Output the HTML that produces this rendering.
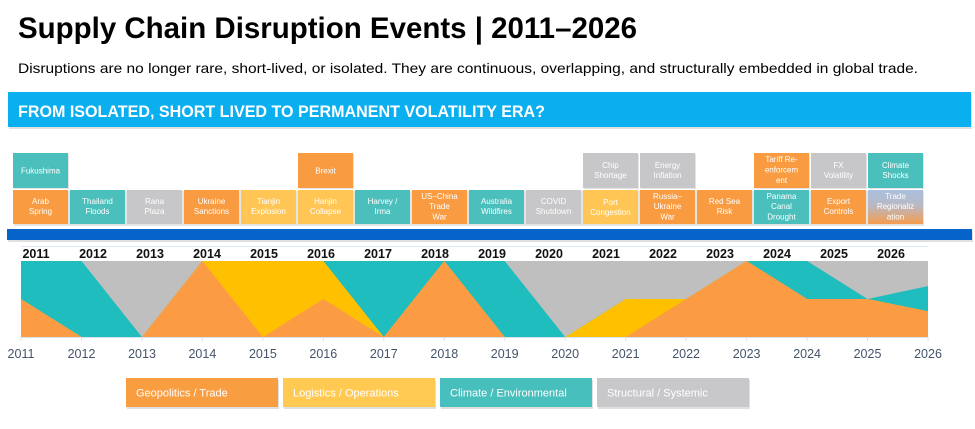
<!DOCTYPE html>
<html>
<head>
<meta charset="utf-8">
<style>
  html,body{margin:0;padding:0;background:#fff;}
  body{width:975px;height:429px;overflow:hidden;}
  svg{display:block;}
  .bx{font-family:"Liberation Sans",sans-serif;font-size:8px;fill:#fff;text-anchor:middle;}
  .yr{font-family:"Liberation Sans",sans-serif;font-size:12.5px;font-weight:bold;fill:#111;text-anchor:middle;}
  .ax{font-family:"Liberation Sans",sans-serif;font-size:12.5px;fill:#44546A;text-anchor:middle;}
  .lg{font-family:"Liberation Sans",sans-serif;font-size:11px;fill:#fff;}
</style>
</head>
<body>
<svg width="975" height="429" viewBox="0 0 975 429" xmlns="http://www.w3.org/2000/svg">
  <defs>
    <linearGradient id="tr" x1="0" y1="0" x2="0" y2="1">
      <stop offset="0" stop-color="#A9BFDF"/>
      <stop offset="0.45" stop-color="#B9B9C4"/>
      <stop offset="1" stop-color="#F59C4E"/>
    </linearGradient>
  </defs>

  <!-- Title -->
  <text x="18" y="38" font-family="Liberation Sans, sans-serif" font-weight="bold" font-size="30" fill="#000" textLength="619" lengthAdjust="spacingAndGlyphs">Supply Chain Disruption Events | 2011–2026</text>
  <text x="18" y="73" font-family="Liberation Sans, sans-serif" font-size="14" fill="#000" textLength="900" lengthAdjust="spacingAndGlyphs">Disruptions are no longer rare, short-lived, or isolated. They are continuous, overlapping, and structurally embedded in global trade.</text>

  <!-- Banner -->
  <rect x="9" y="94" width="963" height="35" fill="#000" opacity="0.12"/>
  <rect x="8" y="92" width="963" height="35" fill="#0AAFEF"/>
  <text x="18" y="117" font-family="Liberation Sans, sans-serif" font-weight="bold" font-size="17" fill="#fff" textLength="527" lengthAdjust="spacingAndGlyphs">FROM ISOLATED, SHORT LIVED TO PERMANENT VOLATILITY ERA?</text>

  <!-- Event boxes: shadows -->
  <g fill="#000" opacity="0.10">
    <rect x="14" y="154" width="55" height="35"/>
    <rect x="299" y="154" width="55" height="35"/>
    <rect x="584" y="154" width="55" height="35"/>
    <rect x="641" y="154" width="55" height="35"/>
    <rect x="755" y="154" width="55" height="35"/>
    <rect x="812" y="154" width="55" height="35"/>
    <rect x="869" y="154" width="55" height="35"/>
    <rect x="14" y="191" width="910" height="35"/>
  </g>

  <!-- Top row -->
  <rect x="13" y="153" width="55" height="35" fill="#4BBFBB"/>
  <text class="bx" x="40.5" y="173.5">Fukushima</text>

  <rect x="298" y="153" width="55" height="35" fill="#F99B41"/>
  <text class="bx" x="325.5" y="173.5">Brexit</text>

  <rect x="583" y="153" width="55" height="35" fill="#C7C7C9"/>
  <text class="bx" x="610.5" y="168">Chip</text>
  <text class="bx" x="610.5" y="178">Shortage</text>

  <rect x="640" y="153" width="55" height="35" fill="#C7C7C9"/>
  <text class="bx" x="667.5" y="168">Energy</text>
  <text class="bx" x="667.5" y="178">Inflation</text>

  <rect x="754" y="153" width="55" height="35" fill="#F99B41"/>
  <text class="bx" x="781.5" y="162">Tariff Re-</text>
  <text class="bx" x="781.5" y="172.5">enforcem</text>
  <text class="bx" x="781.5" y="183">ent</text>

  <rect x="811" y="153" width="55" height="35" fill="#C7C7C9"/>
  <text class="bx" x="838.5" y="168">FX</text>
  <text class="bx" x="838.5" y="178">Volatility</text>

  <rect x="868" y="153" width="55" height="35" fill="#4BBFBB"/>
  <text class="bx" x="895.5" y="168">Climate</text>
  <text class="bx" x="895.5" y="178">Shocks</text>

  <!-- Bottom row -->
  <rect x="13" y="190" width="55" height="34" fill="#F99B41"/>
  <text class="bx" x="40.5" y="204">Arab</text><text class="bx" x="40.5" y="214">Spring</text>

  <rect x="70" y="190" width="55" height="34" fill="#4BBFBB"/>
  <text class="bx" x="97.5" y="204">Thailand</text><text class="bx" x="97.5" y="214">Floods</text>

  <rect x="127" y="190" width="55" height="34" fill="#C7C7C9"/>
  <text class="bx" x="154.5" y="204">Rana</text><text class="bx" x="154.5" y="214">Plaza</text>

  <rect x="184" y="190" width="55" height="34" fill="#F99B41"/>
  <text class="bx" x="211.5" y="204">Ukraine</text><text class="bx" x="211.5" y="214">Sanctions</text>

  <rect x="241" y="190" width="55" height="34" fill="#FFC655"/>
  <text class="bx" x="268.5" y="204">Tianjin</text><text class="bx" x="268.5" y="214">Explosion</text>

  <rect x="298" y="190" width="55" height="34" fill="#FFC655"/>
  <text class="bx" x="325.5" y="204">Hanjin</text><text class="bx" x="325.5" y="214">Collapse</text>

  <rect x="355" y="190" width="55" height="34" fill="#4BBFBB"/>
  <text class="bx" x="382.5" y="204">Harvey /</text><text class="bx" x="382.5" y="214">Irma</text>

  <rect x="412" y="190" width="55" height="34" fill="#F99B41"/>
  <text class="bx" x="439.5" y="199">US–China</text><text class="bx" x="439.5" y="209">Trade</text><text class="bx" x="439.5" y="219.5">War</text>

  <rect x="469" y="190" width="55" height="34" fill="#4BBFBB"/>
  <text class="bx" x="496.5" y="204">Australia</text><text class="bx" x="496.5" y="214">Wildfires</text>

  <rect x="526" y="190" width="55" height="34" fill="#C7C7C9"/>
  <text class="bx" x="553.5" y="204">COVID</text><text class="bx" x="553.5" y="214">Shutdown</text>

  <rect x="583" y="190" width="55" height="34" fill="#FFC655"/>
  <text class="bx" x="610.5" y="205">Port</text><text class="bx" x="610.5" y="215">Congestion</text>

  <rect x="640" y="190" width="55" height="34" fill="#F99B41"/>
  <text class="bx" x="667.5" y="199">Russia–</text><text class="bx" x="667.5" y="209">Ukraine</text><text class="bx" x="667.5" y="219.5">War</text>

  <rect x="697" y="190" width="55" height="34" fill="#F99B41"/>
  <text class="bx" x="724.5" y="204">Red Sea</text><text class="bx" x="724.5" y="214">Risk</text>

  <rect x="754" y="190" width="55" height="34" fill="#4BBFBB"/>
  <text class="bx" x="781.5" y="199">Panama</text><text class="bx" x="781.5" y="209">Canal</text><text class="bx" x="781.5" y="219.5">Drought</text>

  <rect x="811" y="190" width="55" height="34" fill="#F99B41"/>
  <text class="bx" x="838.5" y="204">Export</text><text class="bx" x="838.5" y="214">Controls</text>

  <rect x="868" y="190" width="55" height="34" fill="url(#tr)"/>
  <text class="bx" x="895.5" y="199">Trade</text><text class="bx" x="895.5" y="209">Regionaliz</text><text class="bx" x="895.5" y="219.5">ation</text>

  <!-- Blue bar -->
  <rect x="8" y="231" width="965" height="11" fill="#000" opacity="0.12"/>
  <rect x="7" y="229" width="965" height="11" fill="#0563C9"/>

  <!-- thin line -->
  <line x1="21" y1="246.5" x2="928" y2="246.5" stroke="#DCE6F2" stroke-width="1"/>

  <!-- Year labels (top) -->
  <text class="yr" x="36" y="258">2011</text>
  <text class="yr" x="93" y="258">2012</text>
  <text class="yr" x="150" y="258">2013</text>
  <text class="yr" x="207" y="258">2014</text>
  <text class="yr" x="264" y="258">2015</text>
  <text class="yr" x="321" y="258">2016</text>
  <text class="yr" x="378" y="258">2017</text>
  <text class="yr" x="435" y="258">2018</text>
  <text class="yr" x="492" y="258">2019</text>
  <text class="yr" x="549" y="258">2020</text>
  <text class="yr" x="606" y="258">2021</text>
  <text class="yr" x="663" y="258">2022</text>
  <text class="yr" x="720" y="258">2023</text>
  <text class="yr" x="777" y="258">2024</text>
  <text class="yr" x="834" y="258">2025</text>
  <text class="yr" x="891" y="258">2026</text>

  <!-- Stacked area chart -->
  <rect x="21" y="261" width="907" height="76" fill="#BFBFBF"/>
  <!-- teal (cumulative c3) -->
  <polygon fill="#1FBDBD" points="21,337 21,261 81.47,261 141.93,337 202.4,261 262.87,261 323.33,261 383.8,261 444.27,261 504.73,261 565.2,337 625.67,299 686.13,299 746.6,261 807.07,261 867.53,299 928,286.1 928,337"/>
  <!-- yellow (cumulative c2) -->
  <polygon fill="#FFC000" points="21,337 21,299 81.47,337 141.93,337 202.4,261 262.87,261 323.33,261 383.8,337 444.27,261 504.73,337 565.2,337 625.67,299 686.13,299 746.6,261 807.07,299 867.53,299 928,311.2 928,337"/>
  <!-- orange (cumulative c1) -->
  <polygon fill="#FB9C45" points="21,337 21,299 81.47,337 141.93,337 202.4,261 262.87,337 323.33,299 383.8,337 444.27,261 504.73,337 565.2,337 625.67,337 686.13,299 746.6,261 807.07,299 867.53,299 928,311.2 928,337"/>

  <!-- x axis -->
  <line x1="21" y1="337.5" x2="928" y2="337.5" stroke="#D9E1EC" stroke-width="1"/>
  <g stroke="#D9E1EC" stroke-width="1">
    <line x1="21" y1="337" x2="21" y2="341"/>
    <line x1="81.5" y1="337" x2="81.5" y2="341"/>
    <line x1="142" y1="337" x2="142" y2="341"/>
    <line x1="202.4" y1="337" x2="202.4" y2="341"/>
    <line x1="262.9" y1="337" x2="262.9" y2="341"/>
    <line x1="323.3" y1="337" x2="323.3" y2="341"/>
    <line x1="383.8" y1="337" x2="383.8" y2="341"/>
    <line x1="444.3" y1="337" x2="444.3" y2="341"/>
    <line x1="504.7" y1="337" x2="504.7" y2="341"/>
    <line x1="565.2" y1="337" x2="565.2" y2="341"/>
    <line x1="625.7" y1="337" x2="625.7" y2="341"/>
    <line x1="686.1" y1="337" x2="686.1" y2="341"/>
    <line x1="746.6" y1="337" x2="746.6" y2="341"/>
    <line x1="807.1" y1="337" x2="807.1" y2="341"/>
    <line x1="867.5" y1="337" x2="867.5" y2="341"/>
    <line x1="928" y1="337" x2="928" y2="341"/>
  </g>
  <text class="ax" x="21" y="358">2011</text>
  <text class="ax" x="81.5" y="358">2012</text>
  <text class="ax" x="142" y="358">2013</text>
  <text class="ax" x="202.4" y="358">2014</text>
  <text class="ax" x="262.9" y="358">2015</text>
  <text class="ax" x="323.3" y="358">2016</text>
  <text class="ax" x="383.8" y="358">2017</text>
  <text class="ax" x="444.3" y="358">2018</text>
  <text class="ax" x="504.7" y="358">2019</text>
  <text class="ax" x="565.2" y="358">2020</text>
  <text class="ax" x="625.7" y="358">2021</text>
  <text class="ax" x="686.1" y="358">2022</text>
  <text class="ax" x="746.6" y="358">2023</text>
  <text class="ax" x="807.1" y="358">2024</text>
  <text class="ax" x="867.5" y="358">2025</text>
  <text class="ax" x="928" y="358">2026</text>

  <!-- Legend -->
  <g fill="#000" opacity="0.12">
    <rect x="127" y="380" width="152" height="29"/>
    <rect x="284" y="380" width="152" height="29"/>
    <rect x="441" y="380" width="152" height="29"/>
    <rect x="598" y="380" width="152" height="29"/>
  </g>
  <rect x="126" y="378" width="152" height="29" fill="#F99D41"/>
  <rect x="283" y="378" width="152" height="29" fill="#FFC952"/>
  <rect x="440" y="378" width="152" height="29" fill="#47BFBC"/>
  <rect x="597" y="378" width="152" height="29" fill="#C8C8CB"/>
  <text class="lg" x="136" y="396.5">Geopolitics / Trade</text>
  <text class="lg" x="293" y="396.5">Logistics / Operations</text>
  <text class="lg" x="450" y="396.5">Climate / Environmental</text>
  <text class="lg" x="607" y="396.5">Structural / Systemic</text>
</svg>
</body>
</html>
